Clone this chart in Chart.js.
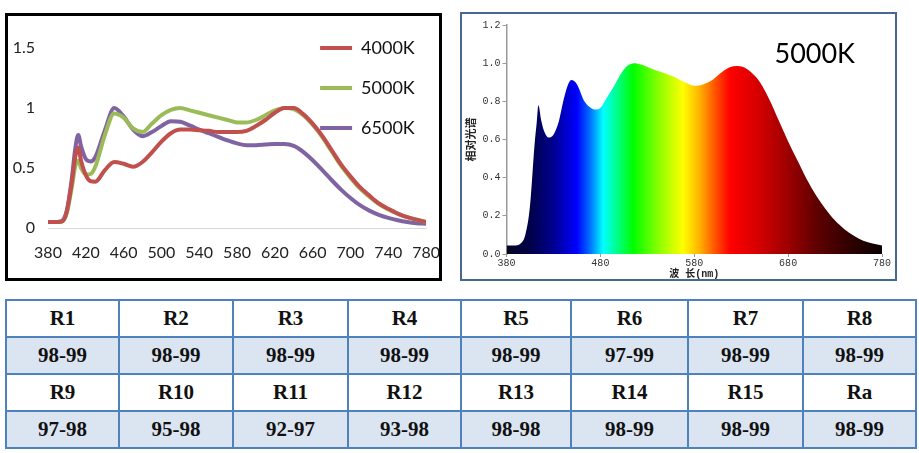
<!DOCTYPE html>
<html>
<head>
<meta charset="utf-8">
<script src="https://cdn.jsdelivr.net/npm/chart.js"></script>
<style>
  html, body { margin: 0; padding: 0; background: #fff; }
  body { width: 919px; height: 453px; position: relative; overflow: hidden; }
  canvas { display: block; }
  #leftBox { position: absolute; left: 5px; top: 13px; width: 437px; height: 268px;
             border: 3px solid #000; box-sizing: border-box; overflow: hidden; }
  #rightBox { position: absolute; left: 460px; top: 12px; width: 437px; height: 269px;
              border: 2px solid #48688f; box-sizing: border-box; overflow: hidden; }
  #cri { position: absolute; left: 5px; top: 299px; border-collapse: collapse; table-layout: fixed; }
  #cri tr { height: 37px; }
  #cri td { border: 2px solid #4f81bd; text-align: center; padding: 0;
            font: bold 21px 'Liberation Serif', serif; color: #111; }
  #cri tr.val td { background: #dbe5f1; }
</style>
</head>
<body>
<div id="leftBox"><canvas id="leftChart" width="447" height="262"></canvas></div>
<div id="rightBox"><canvas id="rightChart" width="433" height="265"></canvas></div>
<table id="cri"></table>

<script>
// ---- left chart: relative spectra of three CCTs ----
const leftWavelengths = [380, 390, 395, 400, 405, 409, 412, 415, 420, 425, 430, 440, 450, 460, 470, 480, 490, 500,
  510, 520, 530, 540, 550, 560, 570, 580, 590, 600, 610, 620, 630, 640, 650, 660, 670, 680, 690, 700,
  710, 720, 730, 740, 750, 760, 770, 780];

const spec4000 = [0.05, 0.05, 0.055, 0.14, 0.37, 0.60, 0.67, 0.56, 0.44, 0.39, 0.385, 0.48, 0.55, 0.535, 0.51, 0.55, 0.63, 0.72,
  0.79, 0.82, 0.82, 0.815, 0.81, 0.80, 0.80, 0.80, 0.81, 0.85, 0.90, 0.96, 1.0, 1.0, 0.95, 0.87, 0.77, 0.65, 0.53, 0.43,
  0.34, 0.27, 0.205, 0.16, 0.12, 0.09, 0.07, 0.05];

const spec5000 = [0.05, 0.05, 0.055, 0.13, 0.33, 0.52, 0.56, 0.50, 0.445, 0.45, 0.51, 0.77, 0.955, 0.92, 0.83, 0.80, 0.87, 0.94,
  0.985, 1.0, 0.98, 0.96, 0.94, 0.92, 0.90, 0.88, 0.88, 0.90, 0.94, 0.98, 1.0, 0.99, 0.94, 0.86, 0.76, 0.64, 0.52, 0.42,
  0.33, 0.26, 0.20, 0.155, 0.12, 0.09, 0.07, 0.05];

const spec6500 = [0.05, 0.05, 0.06, 0.15, 0.40, 0.67, 0.775, 0.68, 0.575, 0.555, 0.59, 0.81, 1.0, 0.93, 0.82, 0.765, 0.80, 0.85,
  0.89, 0.885, 0.855, 0.82, 0.79, 0.76, 0.73, 0.705, 0.69, 0.69, 0.695, 0.70, 0.70, 0.685, 0.635, 0.565, 0.485, 0.40, 0.32, 0.25,
  0.19, 0.145, 0.11, 0.085, 0.065, 0.05, 0.04, 0.035];

const leftLabels = ['4000K', '5000K', '6500K'];
const leftColors = ['#c0504d', '#9bbb59', '#8064a2'];

// ---- right chart: 5000K spectrum ----
const rightWavelengths = [380, 390, 395, 400, 405, 410, 412, 414, 417, 420, 425, 430, 436, 440, 445, 449, 455, 463, 470, 475,
  480, 487, 494, 504, 510, 517, 525, 538, 550, 560, 570, 580, 590, 600, 610, 618, 625, 632, 640, 650, 660, 670,
  680, 690, 700, 710, 720, 730, 740, 750, 760, 770, 780];

const rightSpec = [0.044, 0.045, 0.055, 0.10, 0.25, 0.58, 0.68, 0.78, 0.70, 0.645, 0.61, 0.625, 0.70, 0.79, 0.88, 0.912, 0.89, 0.80, 0.765, 0.757,
  0.765, 0.82, 0.875, 0.96, 0.99, 1.0, 0.99, 0.964, 0.945, 0.925, 0.90, 0.882, 0.89, 0.915, 0.955, 0.978, 0.985, 0.98, 0.955, 0.90, 0.81, 0.70,
  0.59, 0.49, 0.39, 0.305, 0.235, 0.175, 0.13, 0.095, 0.07, 0.055, 0.045];

const rightLabel = '5000K';

// colour stops of the rainbow fill (wavelength nm, colour)
const spectrumStops = [
  [380, '#05051e'], [408, '#000050'], [430, '#000090'], [455, '#0000ff'], [469, '#0070ff'],
  [483, '#00ffff'], [497, '#00ff90'], [515, '#00ff00'], [540, '#80ff00'], [568, '#ffff00'],
  [586, '#ffb000'], [600, '#ff6000'], [618, '#ff0000'], [643, '#dd0000'], [682, '#990000'],
  [710, '#600000'], [746, '#300000'], [780, '#0a0000']
];

// ---- CRI table ----
const criNames1 = ['R1', 'R2', 'R3', 'R4', 'R5', 'R6', 'R7', 'R8'];
const criValues1 = ['98-99', '98-99', '98-99', '98-99', '98-99', '97-99', '98-99', '98-99'];
const criNames2 = ['R9', 'R10', 'R11', 'R12', 'R13', 'R14', 'R15', 'Ra'];
const criValues2 = ['97-98', '95-98', '92-97', '93-98', '98-98', '98-99', '98-99', '98-99'];

// legend drawn inside the plot, top right
const legendInPlot = {
  id: 'legendInPlot',
  afterLayout(chart) {
    const area = chart.chartArea;
    chart.legend.left = area.right - 128;
    chart.legend.top = area.top - 31;
  }
};

new Chart(document.getElementById('leftChart'), {
  type: 'line',
  data: {
    datasets: leftLabels.map((label, i) => ({
      label: label,
      data: leftWavelengths.map((w, j) => ({x: w, y: [spec4000, spec5000, spec6500][i][j]})),
      borderColor: leftColors[i],
      backgroundColor: leftColors[i],
      borderWidth: 4,
      pointRadius: 0,
      cubicInterpolationMode: 'monotone',
      fill: false
    }))
  },
  options: {
    responsive: false,
    animation: false,
    layout: {padding: {left: 0, right: 27, top: 32, bottom: 0}},
    scales: {
      x: {
        type: 'linear', min: 380, max: 780,
        ticks: {stepSize: 40, autoSkip: false, maxRotation: 0, padding: 15, color: '#222',
                font: {family: 'Lato', size: 16}},
        grid: {drawOnChartArea: false, drawTicks: false},
        border: {display: true, color: '#d9d9d9', width: 1},
        afterFit: s => { s.height = 50; }
      },
      y: {
        min: 0, max: 1.5,
        ticks: {stepSize: 0.5, padding: 13, color: '#222', font: {family: 'Lato', size: 16},
                callback: v => String(Number(v.toFixed(2)))},
        grid: {drawOnChartArea: false, drawTicks: false},
        border: {display: false},
        afterFit: s => { s.width = 40; }
      }
    },
    plugins: {
      legend: {
        position: 'chartArea', align: 'start',
        labels: {usePointStyle: true, pointStyle: 'line', pointStyleWidth: 32, padding: 22,
                 color: '#111', font: {family: 'Lato', size: 18}}
      },
      tooltip: {enabled: false}
    }
  },
  plugins: [legendInPlot]
});

function spectrumFill(context) {
  const chart = context.chart;
  const {chartArea, scales} = chart;
  if (!chartArea || !scales.x) return 'transparent';
  const x0 = scales.x.getPixelForValue(380);
  const x1 = scales.x.getPixelForValue(780);
  const g = chart.ctx.createLinearGradient(x0, 0, x1, 0);
  spectrumStops.forEach(([nm, c]) => g.addColorStop((nm - 380) / 400, c));
  return g;
}

// CCT text in the top right of the plot
const cornerLabel = {
  id: 'cornerLabel',
  afterDatasetsDraw(chart) {
    const {ctx, chartArea} = chart;
    ctx.save();
    ctx.font = '27px Lato';
    ctx.fillStyle = '#000';
    ctx.textAlign = 'right';
    ctx.textBaseline = 'middle';
    ctx.fillText(chart.data.datasets[0].label, chartArea.right - 27, chartArea.top + 29);
    ctx.restore();
  }
};

const monoTick = {family: "'Liberation Mono', monospace", size: 10};

new Chart(document.getElementById('rightChart'), {
  type: 'line',
  data: {
    datasets: [{
      label: rightLabel,
      data: rightWavelengths.map((w, j) => ({x: w, y: rightSpec[j]})),
      borderWidth: 0,
      borderColor: 'transparent',
      backgroundColor: spectrumFill,
      pointRadius: 0,
      cubicInterpolationMode: 'monotone',
      fill: 'origin'
    }]
  },
  options: {
    responsive: false,
    animation: false,
    layout: {padding: {left: 0, right: 13, top: 11, bottom: 0}},
    scales: {
      x: {
        type: 'linear', min: 380, max: 780,
        ticks: {stepSize: 100, autoSkip: false, maxRotation: 0, padding: 0, color: '#333', font: monoTick},
        grid: {drawOnChartArea: false, drawTicks: true, tickLength: 3, color: '#999'},
        border: {display: false},
        title: {display: true, text: '波 长(nm)', color: '#222', padding: {top: 0, bottom: 0},
                font: {family: "'Liberation Mono', 'Noto Sans CJK SC'", size: 10, weight: 'bold', lineHeight: 1}},
        afterFit: s => { s.height = 25; }
      },
      y: {
        min: 0, max: 1.2,
        ticks: {stepSize: 0.2, padding: 2, color: '#333', font: monoTick, callback: v => v.toFixed(1)},
        grid: {drawOnChartArea: false, drawTicks: true, tickLength: 4, color: '#999'},
        border: {display: true, color: '#999', width: 1.5},
        title: {display: true, text: '相对光谱', color: '#222', padding: {top: 3, bottom: 0},
                font: {family: "'Noto Sans CJK SC'", size: 11, weight: 'bold', lineHeight: 1}},
        afterFit: s => { s.width = 44.5; }
      }
    },
    plugins: {
      legend: {display: false},
      tooltip: {enabled: false}
    }
  },
  plugins: [cornerLabel]
});

// table rows
const colWidths = [113, 114, 115, 113, 110, 117, 115, 113];
const table = document.getElementById('cri');
const colgroup = document.createElement('colgroup');
colWidths.forEach(w => {
  const col = document.createElement('col');
  col.style.width = w + 'px';
  colgroup.appendChild(col);
});
table.appendChild(colgroup);
[[criNames1, ''], [criValues1, 'val'], [criNames2, ''], [criValues2, 'val']].forEach(([cells, cls]) => {
  const tr = document.createElement('tr');
  if (cls) tr.className = cls;
  cells.forEach(text => {
    const td = document.createElement('td');
    td.textContent = text;
    tr.appendChild(td);
  });
  table.appendChild(tr);
});
</script>
</body>
</html>
